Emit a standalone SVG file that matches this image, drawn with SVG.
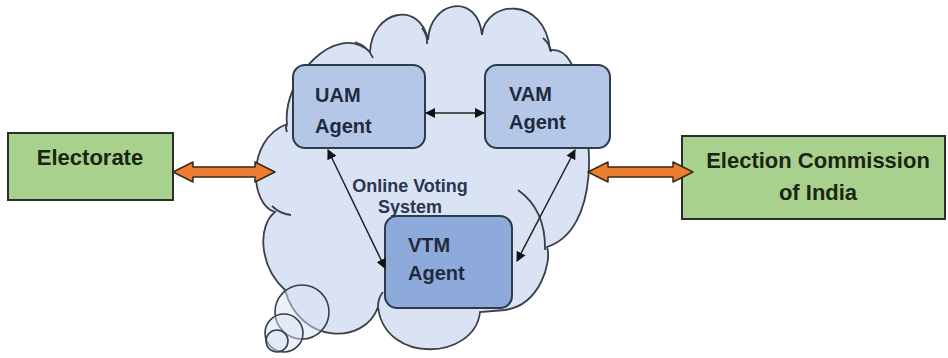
<svg xmlns="http://www.w3.org/2000/svg" width="948" height="358" viewBox="0 0 948 358">
<style>
.ol{stroke:#3a3f4a;stroke-width:1.8;fill:none}
.agent{fill:#b4c7e7;stroke:#2f3a4d;stroke-width:2}
.agentd{fill:#8eaadb;stroke:#2f3a4d;stroke-width:2}
.green{fill:#a9d18e;stroke:#2b2f2b;stroke-width:2}
.t{font-family:"Liberation Sans",Arial,sans-serif;font-weight:bold}
.at{font-size:20px;fill:#1f2a40}
.gt{font-size:22px;fill:#1a2612}
.ct{font-size:18px;fill:#2a3550}
.ora{fill:#ed7d31;stroke:#3a2a1a;stroke-width:1.5;stroke-linejoin:round}
.con{stroke:#222;stroke-width:1.5;fill:none}
</style>
<defs>
<marker id="ah" viewBox="0 0 10 10" refX="9" refY="5" markerWidth="10" markerHeight="10" markerUnits="userSpaceOnUse" orient="auto-start-reverse">
<path d="M0,0 L10,5 L0,10 Z" fill="#111"/>
</marker>
</defs>
<rect width="948" height="358" fill="#ffffff"/>
<g id="cloud">
<path d="M287,124 C282,80 335,20 370,52 C372,10 420,0 428,40 C430,0 478,-8 482,35 C485,0 545,-5 550,50 C568,48 578,70 575,90 C595,130 600,230 547,247 C552,262 540,305 505,310 L480,312 C475,360 385,365 378,307 C365,345 300,345 285,290 C258,265 258,225 275,212 C250,205 245,140 287,124 Z" fill="#dae3f3" stroke="#3a3f4a" stroke-width="1.8"/>
<path class="ol" d="M355,42 Q368,46 373,58"/>
<path class="ol" d="M422,28 Q428,36 427,44"/>
<path class="ol" d="M543,38 Q550,44 551,52"/>
<path class="ol" d="M287,124 Q285,128 287,132"/>
<path class="ol" d="M272,206 Q280,214 291,215"/>
<path class="ol" d="M518,190 Q546,210 545,250"/>
<path class="ol" d="M378,307 Q378,298 383,292"/>
<circle cx="302" cy="312" r="27" fill="#dae3f3" fill-opacity="0.5" stroke="#3a3f4a" stroke-width="1.6"/>
<circle cx="284" cy="333" r="19" fill="#dae3f3" fill-opacity="0.5" stroke="#3a3f4a" stroke-width="1.6"/>
<circle cx="277" cy="341" r="11" fill="#dae3f3" fill-opacity="0.5" stroke="#3a3f4a" stroke-width="1.6"/>
<text class="t ct" x="410" y="192" text-anchor="middle">Online Voting</text>
<text class="t ct" x="410" y="213" text-anchor="middle">System</text>
</g>
<g id="electorate">
<rect class="green" x="8" y="133" width="165" height="67"/>
<text class="t gt" x="90" y="165" text-anchor="middle">Electorate</text>
</g>
<g id="eci">
<rect class="green" x="682" y="136" width="263" height="83"/>
<text class="t gt" x="818" y="168" text-anchor="middle">Election Commission</text>
<text class="t gt" x="818" y="200" text-anchor="middle">of India</text>
</g>
<g id="uam">
<rect class="agent" x="293" y="65" width="132" height="83" rx="12"/>
<text class="t at" x="315" y="102">UAM</text>
<text class="t at" x="315" y="133">Agent</text>
</g>
<g id="vam">
<rect class="agent" x="485" y="65" width="125" height="83" rx="12"/>
<text class="t at" x="509" y="101">VAM</text>
<text class="t at" x="509" y="129">Agent</text>
</g>
<g id="vtm">
<rect class="agentd" x="385" y="216" width="127" height="92" rx="12"/>
<text class="t at" x="408" y="252">VTM</text>
<text class="t at" x="408" y="280">Agent</text>
</g>
<g id="connectors">
<polygon class="ora" points="173,172 193,162 193,167 255,167 255,162 275,172 255,182 255,177 193,177 193,182"/>
<polygon class="ora" points="588,172 608,162 608,167 673,167 673,162 693,172 673,182 673,177 608,177 608,182"/>
<line class="con" x1="426" y1="113" x2="484" y2="113" marker-start="url(#ah)" marker-end="url(#ah)"/>
<line class="con" x1="328" y1="150" x2="385" y2="268" marker-start="url(#ah)" marker-end="url(#ah)"/>
<line class="con" x1="575" y1="150" x2="517" y2="261" marker-start="url(#ah)" marker-end="url(#ah)"/>
</g>
</svg>
